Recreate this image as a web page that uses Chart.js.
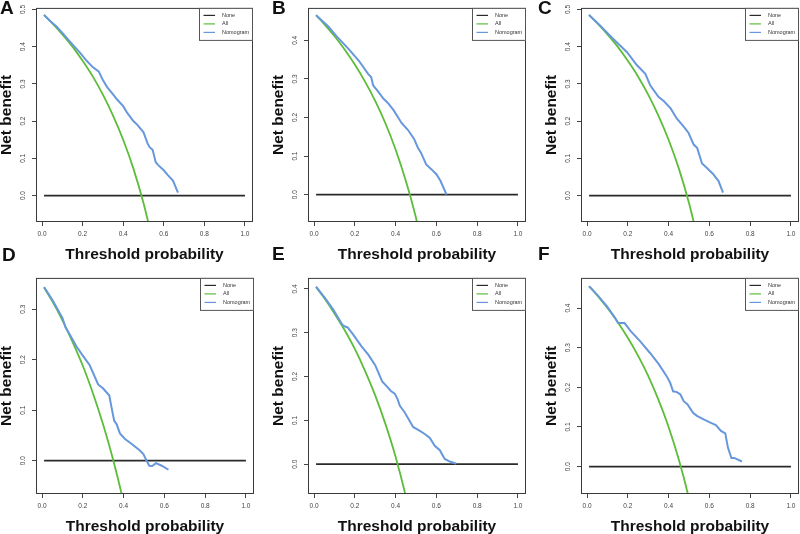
<!DOCTYPE html>
<html>
<head>
<meta charset="utf-8">
<script src="https://cdn.jsdelivr.net/npm/chart.js@4.4.1/dist/chart.umd.min.js"></script>
<style>
  html, body { margin: 0; padding: 0; background: #fff; }
  body { width: 800px; height: 534px; overflow: hidden; position: relative; }
  canvas { position: absolute; }
  .tag { position: absolute; font: bold 19px 'Liberation Sans', Arial, sans-serif; line-height: 1; color: #111; }
</style>
</head>
<body>
<script>
// ---- data ----
const seriesNames = ['None', 'All', 'Nomogram'];
const panelTags = ['A', 'B', 'C', 'D', 'E', 'F'];
const xTicks = [0, 0.2, 0.4, 0.6, 0.8, 1.0];

const noneX = [0.01, 1.0];
const noneY = [0, 0];

const allX = [0.01, 0.05, 0.10, 0.15, 0.20, 0.25, 0.30, 0.35, 0.40, 0.45, 0.50, 0.55];
const allA = [0.485, 0.463, 0.433, 0.400, 0.362, 0.320, 0.271, 0.215, 0.150, 0.073, -0.020, -0.133];
const allB = [0.465, 0.442, 0.411, 0.376, 0.337, 0.293, 0.243, 0.185, 0.117, 0.036, -0.060, -0.178];
const allC = [0.485, 0.463, 0.433, 0.400, 0.362, 0.320, 0.271, 0.215, 0.150, 0.073, -0.020, -0.133];
const allD = [0.343, 0.316, 0.278, 0.235, 0.188, 0.133, 0.071, 0.000, -0.083, -0.182, -0.300, -0.444];
const allE = [0.404, 0.379, 0.344, 0.306, 0.263, 0.213, 0.157, 0.092, 0.017, -0.073, -0.180, -0.311];
const allF = [0.455, 0.432, 0.400, 0.365, 0.325, 0.280, 0.229, 0.169, 0.100, 0.018, -0.080, -0.200];

const nomAx = [0.01, 0.04, 0.07, 0.10, 0.13, 0.16, 0.19, 0.22, 0.25, 0.28, 0.30, 0.32, 0.35, 0.37, 0.40, 0.42, 0.45, 0.47, 0.50, 0.52, 0.53, 0.545, 0.56, 0.57, 0.60, 0.62, 0.645, 0.67];
const nomAy = [0.485, 0.469, 0.455, 0.437, 0.418, 0.400, 0.382, 0.362, 0.345, 0.333, 0.310, 0.292, 0.272, 0.258, 0.240, 0.222, 0.200, 0.190, 0.170, 0.140, 0.130, 0.123, 0.090, 0.083, 0.068, 0.055, 0.040, 0.008];

const nomBx = [0.01, 0.07, 0.11, 0.17, 0.22, 0.265, 0.28, 0.29, 0.31, 0.34, 0.365, 0.39, 0.43, 0.46, 0.49, 0.51, 0.525, 0.55, 0.575, 0.60, 0.62, 0.65];
const nomBy = [0.465, 0.436, 0.411, 0.377, 0.347, 0.313, 0.305, 0.283, 0.270, 0.249, 0.236, 0.219, 0.185, 0.168, 0.145, 0.121, 0.108, 0.078, 0.066, 0.053, 0.036, 0.000];

const nomCx = [0.01, 0.065, 0.12, 0.196, 0.245, 0.286, 0.31, 0.35, 0.376, 0.41, 0.44, 0.474, 0.498, 0.523, 0.54, 0.564, 0.588, 0.618, 0.645, 0.667];
const nomCy = [0.485, 0.456, 0.425, 0.385, 0.350, 0.327, 0.296, 0.265, 0.254, 0.234, 0.207, 0.185, 0.168, 0.137, 0.128, 0.086, 0.074, 0.058, 0.039, 0.008];

const nomDx = [0.01, 0.054, 0.087, 0.10, 0.115, 0.136, 0.169, 0.20, 0.234, 0.275, 0.30, 0.33, 0.341, 0.354, 0.366, 0.382, 0.407, 0.44, 0.48, 0.497, 0.513, 0.526, 0.54, 0.559, 0.587, 0.62];
const nomDy = [0.344, 0.316, 0.292, 0.283, 0.264, 0.250, 0.226, 0.208, 0.189, 0.151, 0.143, 0.129, 0.105, 0.079, 0.072, 0.054, 0.043, 0.033, 0.020, 0.013, 0.000, -0.010, -0.0105, -0.005, -0.010, -0.018];

const nomEx = [0.01, 0.054, 0.095, 0.127, 0.139, 0.152, 0.165, 0.193, 0.233, 0.266, 0.30, 0.334, 0.356, 0.377, 0.396, 0.41, 0.421, 0.445, 0.486, 0.519, 0.543, 0.568, 0.592, 0.617, 0.641, 0.666, 0.698];
const nomEy = [0.405, 0.379, 0.352, 0.327, 0.318, 0.314, 0.312, 0.295, 0.269, 0.250, 0.226, 0.189, 0.178, 0.167, 0.161, 0.148, 0.133, 0.118, 0.085, 0.076, 0.069, 0.060, 0.042, 0.032, 0.012, 0.006, 0.001];

const nomFx = [0.01, 0.049, 0.098, 0.139, 0.152, 0.184, 0.212, 0.261, 0.31, 0.351, 0.392, 0.408, 0.422, 0.441, 0.458, 0.474, 0.493, 0.52, 0.539, 0.572, 0.605, 0.632, 0.657, 0.678, 0.691, 0.708, 0.722, 0.76];
const nomFy = [0.455, 0.434, 0.404, 0.374, 0.362, 0.362, 0.343, 0.316, 0.286, 0.259, 0.227, 0.211, 0.190, 0.188, 0.182, 0.165, 0.157, 0.136, 0.128, 0.119, 0.111, 0.105, 0.090, 0.084, 0.048, 0.022, 0.022, 0.013];

const yTicksA = [0, 0.1, 0.2, 0.3, 0.4, 0.5];
const yTicksB = [0, 0.1, 0.2, 0.3, 0.4];
const yTicksD = [0, 0.1, 0.2, 0.3];

// axis limits (y) per panel
const yLimA = [-0.071, 0.504];
const yLimB = [-0.071, 0.484];
const yLimD = [-0.066, 0.362];
const yLimE = [-0.068, 0.425];
const yLimF = [-0.069, 0.476];

// ---- layout / style ----
const FAM = "'Liberation Sans', Arial, sans-serif";
const colNone = '#2a2a2a', colAll = '#5cbd3a', colNom = '#6797dc';
Chart.defaults.font.family = FAM;

const panels = [
  { box: [36, 6, 217, 216],  allY: allA, nx: nomAx, ny: nomAy, yt: yTicksA, yl: yLimA },
  { box: [308, 6, 218, 216], allY: allB, nx: nomBx, ny: nomBy, yt: yTicksB, yl: yLimB },
  { box: [581, 6, 218, 216], allY: allC, nx: nomCx, ny: nomCy, yt: yTicksA, yl: yLimA },
  { box: [36, 276, 218, 218],  allY: allD, nx: nomDx, ny: nomDy, yt: yTicksD, yl: yLimD },
  { box: [308, 276, 218, 218], allY: allE, nx: nomEx, ny: nomEy, yt: yTicksB, yl: yLimE },
  { box: [581, 276, 218, 218], allY: allF, nx: nomFx, ny: nomFy, yt: yTicksB, yl: yLimF }
];
const tagPos = [[0, -2], [272, -2], [538, -2], [2, 245], [272, 244], [538, 244]];

const YW = 42, XH = 42, PT = 6, PR = 4;

const toXY = (xs, ys) => xs.map((x, i) => ({ x: x, y: ys[i] }));

const frame = {
  id: 'frame',
  afterDatasetsDraw(chart) {
    const { ctx, chartArea: a } = chart;
    ctx.save();
    ctx.strokeStyle = '#3a3a3a';
    ctx.lineWidth = 1;
    ctx.strokeRect(a.left + 0.5, a.top + 0.5, a.width - 1, a.height - 1);
    // legend box, top right inside the plot
    const w = 54, h = 33, x0 = a.right - w, y0 = a.top;
    ctx.fillStyle = '#fff';
    ctx.fillRect(x0, y0, w, h);
    ctx.strokeStyle = '#555';
    ctx.strokeRect(x0 + 0.5, y0 + 0.5, w - 1, h - 1);
    ctx.font = '5.5px ' + FAM;
    ctx.textBaseline = 'middle';
    chart.data.datasets.forEach((ds, i) => {
      const y = y0 + 7.5 + i * 8.5;
      ctx.strokeStyle = ds.borderColor;
      ctx.lineWidth = 1.2;
      ctx.beginPath();
      ctx.moveTo(x0 + 4.5, y);
      ctx.lineTo(x0 + 16, y);
      ctx.stroke();
      ctx.fillStyle = '#333';
      ctx.fillText(ds.label, x0 + 23, y);
    });
    ctx.restore();
  }
};

panels.forEach((p, k) => {
  const [bl, bt, bw, bh] = p.box;
  const cv = document.createElement('canvas');
  const W = YW + bw + PR, H = PT + bh + XH;
  cv.width = W; cv.height = H;
  cv.style.left = (bl - YW) + 'px';
  cv.style.top = (bt - PT) + 'px';
  cv.style.width = W + 'px';
  cv.style.height = H + 'px';
  document.body.appendChild(cv);

  const tickFont = { size: 6.5 };
  const titleFont = { size: 15.5, weight: 'bold', lineHeight: 1 };

  new Chart(cv, {
    type: 'scatter',
    data: {
      datasets: [
        { label: seriesNames[0], data: toXY(noneX, noneY), borderColor: colNone, borderWidth: 1.8, showLine: true, pointRadius: 0, order: 3 },
        { label: seriesNames[1], data: toXY(allX, p.allY), borderColor: colAll, borderWidth: 1.8, showLine: true, pointRadius: 0, cubicInterpolationMode: 'monotone', order: 2 },
        { label: seriesNames[2], data: toXY(p.nx, p.ny), borderColor: colNom, borderWidth: 2, showLine: true, pointRadius: 0, order: 1 }
      ]
    },
    options: {
      responsive: false,
      animation: false,
      devicePixelRatio: 1,
      events: [],
      layout: { padding: { top: PT, right: PR, left: 0, bottom: 0 }, autoPadding: false },
      plugins: { legend: { display: false }, tooltip: { enabled: false } },
      scales: {
        x: {
          type: 'linear', min: -0.0296, max: 1.0396,
          afterFit: s => { s.height = XH; },
          afterBuildTicks: s => { s.ticks = xTicks.map(v => ({ value: v })); },
          ticks: { font: tickFont, color: '#444', padding: 4, maxRotation: 0, minRotation: 0, callback: v => v.toFixed(1) },
          grid: { drawOnChartArea: false, tickLength: 4, color: '#444' },
          border: { display: false },
          title: { display: true, text: 'Threshold probability', font: titleFont, color: '#111', padding: { top: 0, bottom: 2 } }
        },
        y: {
          type: 'linear', min: p.yl[0], max: p.yl[1],
          afterFit: s => { s.width = YW; },
          afterBuildTicks: s => { s.ticks = p.yt.map(v => ({ value: v })); },
          ticks: { font: tickFont, color: '#444', padding: 4, minRotation: 90, maxRotation: 90, crossAlign: 'center', callback: v => v.toFixed(1) },
          grid: { drawOnChartArea: false, tickLength: 4, color: '#444' },
          border: { display: false },
          title: { display: true, text: 'Net benefit', font: titleFont, color: '#111', padding: { top: 4.5, bottom: 0 } }
        }
      }
    },
    plugins: [frame]
  });

  const tag = document.createElement('div');
  tag.className = 'tag';
  tag.textContent = panelTags[k];
  tag.style.left = tagPos[k][0] + 'px';
  tag.style.top = tagPos[k][1] + 'px';
  document.body.appendChild(tag);
});
</script>
</body>
</html>
